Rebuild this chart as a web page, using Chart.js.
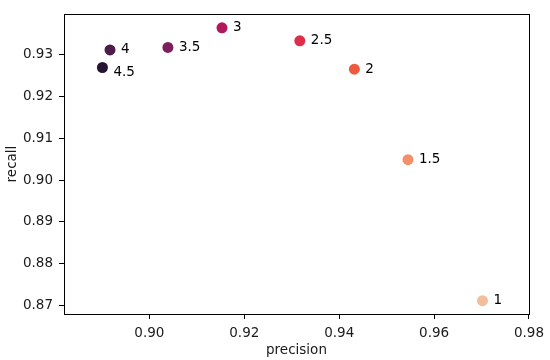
<!DOCTYPE html>
<html>
<head>
<meta charset="utf-8">
<script src="https://cdn.jsdelivr.net/npm/chart.js@4"></script>
<style>
  html, body { margin: 0; padding: 0; background: #fff; }
  #wrap { width: 550px; height: 360px; }
</style>
</head>
<body>
<div id="wrap"><canvas id="chart"></canvas></div>
<script>
// threshold labels and the precision / recall measured at each one
const thresholds = ['1', '1.5', '2', '2.5', '3', '3.5', '4', '4.5'];
const precision = [0.9702, 0.9545, 0.9432, 0.9317, 0.9153, 0.9039, 0.8917, 0.8901];
const recall    = [0.8711, 0.9049, 0.9266, 0.9334, 0.9365, 0.9318, 0.9312, 0.9270];
const pointColors = ['#f4bd9c', '#f3906a', '#ee5a3f', '#de2e4a', '#b0195c', '#7c1f5c', '#4c1d4b', '#251533'];

const xTicks = [0.90, 0.92, 0.94, 0.96, 0.98];
const yTicks = [0.87, 0.88, 0.89, 0.90, 0.91, 0.92, 0.93];

const FONT = { family: 'DejaVu Sans', size: 13.5 };

// draws the full black frame round the plot area
const framePlugin = {
  id: 'frame',
  afterDraw(chart) {
    const { ctx, chartArea: a } = chart;
    ctx.save();
    ctx.strokeStyle = '#000';
    ctx.lineWidth = 1;
    ctx.strokeRect(Math.round(a.left) + 0.5, Math.round(a.top) + 0.5,
      Math.round(a.right - a.left), Math.round(a.bottom - a.top));
    ctx.restore();
  }
};

// writes the threshold next to each point
const labelPlugin = {
  id: 'pointLabels',
  afterDatasetsDraw(chart) {
    const { ctx } = chart;
    const meta = chart.getDatasetMeta(0);
    ctx.save();
    ctx.font = `${FONT.size}px ${FONT.family}`;
    ctx.fillStyle = '#000';
    ctx.textAlign = 'left';
    ctx.textBaseline = 'middle';
    meta.data.forEach((pt, i) => {
      const dy = thresholds[i] === '4.5' ? 5 : 0; // nudged below like the original
      ctx.fillText(thresholds[i], pt.x + 11, pt.y + dy);
    });
    ctx.restore();
  }
};

const tickSetter = values => scale => {
  scale.ticks = values.map(v => ({ value: v }));
};

new Chart(document.getElementById('chart'), {
  type: 'scatter',
  data: {
    datasets: [{
      data: precision.map((p, i) => ({ x: p, y: recall[i] })),
      backgroundColor: pointColors,
      borderColor: pointColors,
      borderWidth: 0,
      pointRadius: 5.5,
      pointHoverRadius: 5.5
    }]
  },
  options: {
    responsive: true,
    maintainAspectRatio: false,
    animation: false,
    layout: { padding: { left: 0, right: 21, top: 12, bottom: 0 } },
    plugins: {
      legend: { display: false },
      tooltip: { enabled: false }
    },
    scales: {
      x: {
        type: 'linear',
        min: 0.882,
        max: 0.98,
        afterBuildTicks: tickSetter(xTicks),
        afterFit(scale) { scale.height = 46; },
        grid: { drawOnChartArea: false, drawTicks: true, tickLength: 5, color: '#000' },
        border: { display: true, color: '#000' },
        ticks: {
          color: '#1a1a1a',
          font: FONT,
          padding: 6,
          maxRotation: 0,
          callback: v => v.toFixed(2)
        },
        title: {
          display: true,
          text: 'precision',
          color: '#1a1a1a',
          font: FONT,
          padding: { top: 0, bottom: 1 }
        }
      },
      y: {
        type: 'linear',
        min: 0.8679,
        max: 0.9398,
        afterBuildTicks: tickSetter(yTicks),
        afterFit(scale) { scale.width = 64; },
        grid: { drawOnChartArea: false, drawTicks: true, tickLength: 5, color: '#000' },
        border: { display: true, color: '#000' },
        ticks: {
          color: '#1a1a1a',
          font: FONT,
          padding: 6,
          callback: v => v.toFixed(2)
        },
        title: {
          display: true,
          text: 'recall',
          color: '#1a1a1a',
          font: FONT,
          padding: { top: 4, bottom: 0 }
        }
      }
    }
  },
  plugins: [framePlugin, labelPlugin]
});
</script>
</body>
</html>
